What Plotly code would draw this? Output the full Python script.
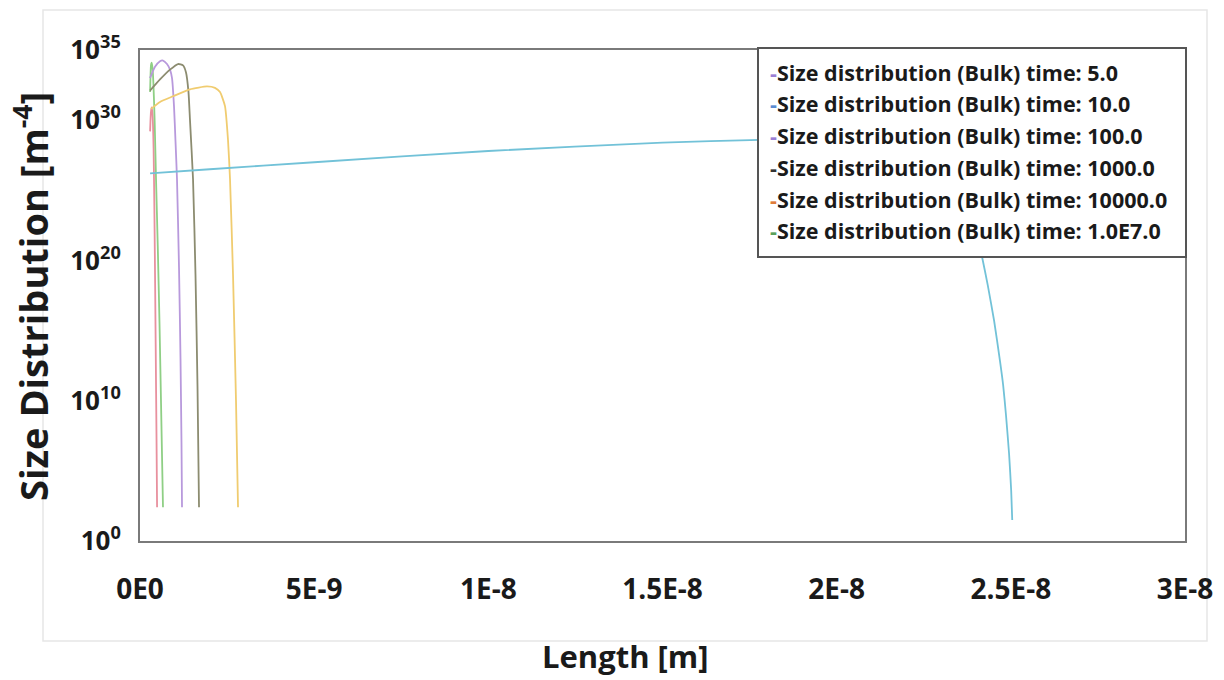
import plotly.graph_objects as go

# ---- data (length in m, log10 of size distribution in m^-4) ----
len_t5 = [2.9e-10, 3.0e-10, 3.15e-10, 3.35e-10, 3.6e-10, 3.9e-10, 4.2e-10, 4.5e-10, 4.75e-10, 4.9e-10]
log_t5 = [29.2, 29.9, 30.6, 30.9, 30.4, 28.0, 22.0, 14.0, 7.0, 2.4]

len_t10 = [2.9e-10, 3.0e-10, 3.15e-10, 3.35e-10, 3.6e-10, 3.85e-10, 4.2e-10, 4.6e-10, 5.1e-10, 5.6e-10, 6.1e-10, 6.6e-10]
log_t10 = [32.0, 33.0, 33.9, 34.1, 33.7, 32.6, 30.0, 25.8, 21.0, 15.5, 9.0, 2.4]

len_t100 = [2.87e-10, 4.31e-10, 5.74e-10, 6.60e-10, 7.75e-10, 8.61e-10, 9.19e-10, 9.76e-10, 1.019e-9, 1.062e-9, 1.120e-9, 1.163e-9, 1.191e-9, 1.206e-9]
log_t100 = [33.0, 33.8, 34.2, 34.25, 34.0, 33.6, 33.0, 31.0, 28.5, 25.8, 19.5, 13.0, 7.0, 2.4]

len_t1000 = [2.87e-10, 5.74e-10, 8.61e-10, 1.091e-9, 1.235e-9, 1.321e-9, 1.392e-9, 1.435e-9, 1.522e-9, 1.593e-9, 1.651e-9, 1.694e-9]
log_t1000 = [32.1, 32.9, 33.6, 34.0, 33.9, 33.4, 32.0, 30.0, 25.8, 19.0, 11.0, 2.4]

len_t10000 = [3.16e-10, 5.74e-10, 9.47e-10, 1.435e-9, 1.924e-9, 2.153e-9, 2.297e-9, 2.440e-9, 2.526e-9, 2.584e-9, 2.670e-9, 2.756e-9, 2.814e-9]
log_t10000 = [30.8, 31.3, 31.7, 32.2, 32.4, 32.3, 32.0, 31.0, 28.6, 25.8, 19.0, 10.0, 2.4]

len_t1e7 = [2.9e-10, 2e-9, 5e-9, 1e-8, 1.5e-8, 1.78e-8, 2.0e-8, 2.2e-8, 2.3e-8, 2.36e-8, 2.4e-8,
            2.417e-8, 2.434e-8, 2.452e-8, 2.469e-8, 2.478e-8, 2.486e-8, 2.495e-8, 2.501e-8, 2.504e-8]
log_t1e7 = [26.2, 26.5, 27.0, 27.8, 28.4, 28.6, 28.75, 28.5, 27.3, 25.0, 22.1,
            20.3, 18.2, 15.7, 12.8, 11.1, 9.0, 6.2, 3.6, 1.5]

legend_labels = ["5.0", "10.0", "100.0", "1000.0", "10000.0", "1.0E7.0"]
legend_dash_colors = ["#9b7fd4", "#5b8bd0", "#9b7fd4", "#333333", "#e07b39", "#5aa05a"]

x_tickvals = [0, 5e-9, 1e-8, 1.5e-8, 2e-8, 2.5e-8, 3e-8]
x_ticktext = ["0E0", "5E-9", "1E-8", "1.5E-8", "2E-8", "2.5E-8", "3E-8"]
y_tickvals = [1e0, 1e10, 1e20, 1e30, 1e35]
y_ticktext = ["10<sup>0</sup>", "10<sup>10</sup>", "10<sup>20</sup>", "10<sup>30</sup>", "10<sup>35</sup>"]

series = [
    (len_t5, log_t5, "#e8909e"),
    (len_t10, log_t10, "#8fcf85"),
    (len_t100, log_t100, "#b899dc"),
    (len_t1000, log_t1000, "#8c8c70"),
    (len_t10000, log_t10000, "#f0cc70"),
    (len_t1e7, log_t1e7, "#72c2d8"),
]

fig = go.Figure()
for (xs, ls, col), lab in zip(series, legend_labels):
    fig.add_trace(go.Scatter(
        x=xs, y=[10 ** v for v in ls], mode="lines",
        line=dict(color=col, width=1.8, shape="spline", smoothing=0.5),
        name="Size distribution (Bulk) time: " + lab, showlegend=False,
    ))

FONT = "Open Sans"
L, R, T, B = 140, 1185, 50, 541
W, H = 1224, 680

def px(x):
    return (x - L) / (R - L)

def py(y):
    return (B - y) / (B - T)

fig.update_layout(
    width=W, height=H,
    margin=dict(l=L, r=W - R, t=T, b=H - B),
    paper_bgcolor="white", plot_bgcolor="white",
    font=dict(family=FONT, color="#1a1a1a"),
    xaxis=dict(
        range=[0, 3e-8], tickvals=x_tickvals, ticktext=x_ticktext,
        showgrid=False, zeroline=False, showline=True, mirror=True,
        linecolor="#7a7a7a", linewidth=2,
        ticks="outside", ticklen=22, tickcolor="rgba(0,0,0,0)",
        tickfont=dict(family=FONT, size=28, weight="bold", color="#1a1a1a"),
    ),
    yaxis=dict(
        type="log", range=[0, 35], tickvals=y_tickvals, ticktext=y_ticktext,
        showgrid=False, zeroline=False, showline=True, mirror=True,
        linecolor="#7a7a7a", linewidth=2,
        ticks="outside", ticklen=12, tickcolor="rgba(0,0,0,0)",
        tickfont=dict(family=FONT, size=26, weight="bold", color="#1a1a1a"),
    ),
)

# faint outer frame
fig.add_shape(type="rect", xref="paper", yref="paper",
              x0=px(43), x1=px(1207), y0=py(641), y1=py(10),
              line=dict(color="#e6e6e6", width=1.5), layer="below")

# legend box
fig.add_shape(type="rect", xref="paper", yref="paper",
              x0=px(758), x1=px(1186), y0=py(257), y1=py(48),
              line=dict(color="#555555", width=2), fillcolor="white", layer="above")

legend_y = [72, 104, 135, 167, 199, 231]
for lab, col, yy in zip(legend_labels, legend_dash_colors, legend_y):
    fig.add_annotation(
        xref="paper", yref="paper", x=px(768), y=py(yy),
        xanchor="left", yanchor="middle", showarrow=False,
        text=f'<span style="color:{col}">-</span>Size distribution (Bulk) time: {lab}',
        font=dict(family=FONT, size=21.5, weight="bold", color="#1a1a1a"),
    )

# axis titles
fig.add_annotation(
    xref="paper", yref="paper", x=px(625), y=py(656),
    xanchor="center", yanchor="middle", showarrow=False,
    text="Length [m]", font=dict(family=FONT, size=31, weight="bold", color="#1a1a1a"),
)
fig.add_annotation(
    xref="paper", yref="paper", x=px(31), y=py(297),
    xanchor="center", yanchor="middle", showarrow=False, textangle=-90,
    text="Size Distribution [m<sup>-4</sup>]",
    font=dict(family=FONT, size=38, weight="bold", color="#1a1a1a"),
)

fig.write_html(
    "out.html",
    config={"displayModeBar": False},
    post_script="document.body.style.margin='0px';document.body.style.overflow='hidden';",
)
